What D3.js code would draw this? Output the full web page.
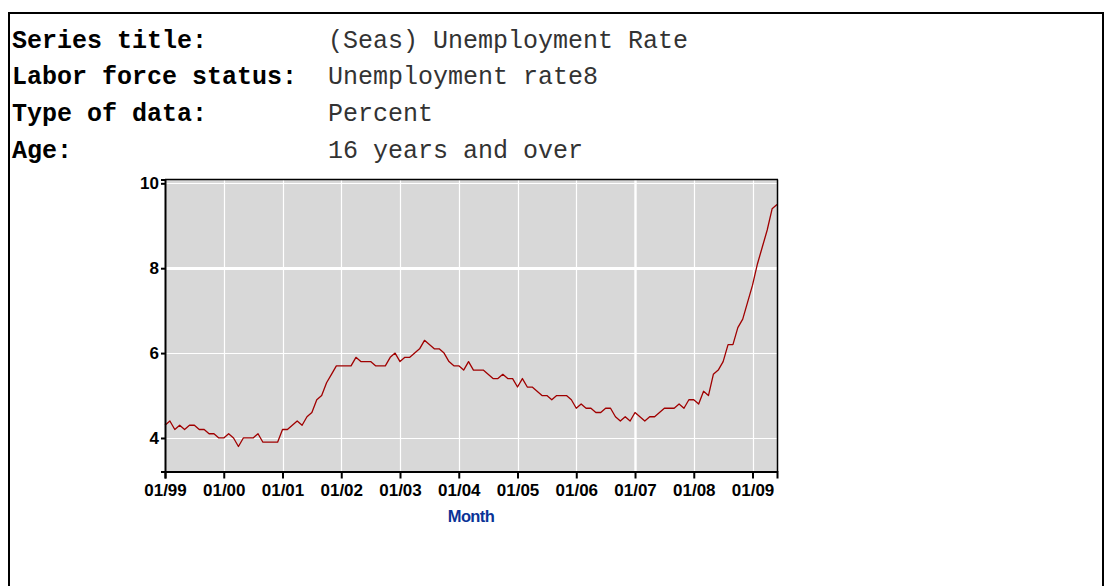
<!DOCTYPE html>
<html><head><meta charset="utf-8">
<script src="https://cdn.jsdelivr.net/npm/d3@7"></script>
<style>
html,body{margin:0;padding:0;background:#fff;}
svg{display:block;}
</style></head>
<body>
<svg id="c" width="1105" height="586"></svg>
<script>
// ---- data ----
const infoLabels = ["Series title:", "Labor force status:", "Type of data:", "Age:"];
const infoValues = ["(Seas) Unemployment Rate", "Unemployment rate8", "Percent", "16 years and over"];
const years = [1999,2000,2001,2002,2003,2004,2005,2006,2007,2008,2009];
const rate1999 = [4.3,4.4,4.2,4.3,4.2,4.3,4.3,4.2,4.2,4.1,4.1,4.0];
const rate2000 = [4.0,4.1,4.0,3.8,4.0,4.0,4.0,4.1,3.9,3.9,3.9,3.9];
const rate2001 = [4.2,4.2,4.3,4.4,4.3,4.5,4.6,4.9,5.0,5.3,5.5,5.7];
const rate2002 = [5.7,5.7,5.7,5.9,5.8,5.8,5.8,5.7,5.7,5.7,5.9,6.0];
const rate2003 = [5.8,5.9,5.9,6.0,6.1,6.3,6.2,6.1,6.1,6.0,5.8,5.7];
const rate2004 = [5.7,5.6,5.8,5.6,5.6,5.6,5.5,5.4,5.4,5.5,5.4,5.4];
const rate2005 = [5.2,5.4,5.2,5.2,5.1,5.0,5.0,4.9,5.0,5.0,5.0,4.9];
const rate2006 = [4.7,4.8,4.7,4.7,4.6,4.6,4.7,4.7,4.5,4.4,4.5,4.4];
const rate2007 = [4.6,4.5,4.4,4.5,4.5,4.6,4.7,4.7,4.7,4.8,4.7,4.9];
const rate2008 = [4.9,4.8,5.1,5.0,5.5,5.6,5.8,6.2,6.2,6.6,6.8,7.2];
const rate2009 = [7.6,8.1,8.5,8.9,9.4,9.5];
const yTicks = [4,6,8,10];
const xTickLabels = ["01/99","01/00","01/01","01/02","01/03","01/04","01/05","01/06","01/07","01/08","01/09"];
const xTitle = "Month";

const values = [].concat(rate1999,rate2000,rate2001,rate2002,rate2003,rate2004,rate2005,rate2006,rate2007,rate2008,rate2009);
const series = values.map((v,i)=>({i, v}));

const svg = d3.select("#c");

// outer frame
svg.append("rect").attr("x",9).attr("y",13).attr("width",1094).attr("height",600)
  .attr("fill","none").attr("stroke","#000").attr("stroke-width",2);

// info text
const rowY = [47.5, 84, 121, 157.5];
infoLabels.forEach((t,k)=>{
  svg.append("text").attr("x",12).attr("y",rowY[k]).text(t)
    .attr("font-family","'Liberation Mono','Courier New',monospace")
    .attr("font-size",25).attr("font-weight","bold").attr("fill","#000");
  svg.append("text").attr("x",328).attr("y",rowY[k]).text(infoValues[k])
    .attr("font-family","'Liberation Mono','Courier New',monospace")
    .attr("font-size",25).attr("fill","#333");
});

// chart
const L=165, R=777, T=179.5, B=471.5;
const x = d3.scaleLinear().domain([0, values.length-1]).range([L, R]);
const y = d3.scaleLinear().domain([3.21, 10.09]).range([B, T]);

svg.append("rect").attr("x",L).attr("y",T).attr("width",R-L).attr("height",B-T).attr("fill","#d8d8d8");

// grid
const g = svg.append("g");
yTicks.forEach(t=>{
  g.append("line").attr("x1",L).attr("x2",R).attr("y1",Math.round(y(t))+0.5).attr("y2",Math.round(y(t))+0.5)
   .attr("stroke","#fff").attr("stroke-width", t===8?3:1.2);
});
years.forEach((yr,k)=>{
  if(k===0) return;
  const px = Math.round(x(k*12))+0.5;
  g.append("line").attr("x1",px).attr("x2",px).attr("y1",T).attr("y2",B)
   .attr("stroke","#fff").attr("stroke-width", yr===2007?2.4:1.2);
});

// line
const line = d3.line().x(d=>x(d.i)).y(d=>y(d.v));
svg.append("path").datum(series).attr("d",line).attr("fill","none")
  .attr("stroke","#a00000").attr("stroke-width",1.3).attr("stroke-linejoin","round");

// frame top/right
svg.append("line").attr("x1",L).attr("x2",R+1).attr("y1",T).attr("y2",T).attr("stroke","#000").attr("stroke-width",1.5);
svg.append("line").attr("x1",R+0.5).attr("x2",R+0.5).attr("y1",T).attr("y2",B).attr("stroke","#000").attr("stroke-width",1.5);

// axes
const yAxis = d3.axisLeft(y).tickValues(yTicks).tickFormat(d3.format("d")).tickSize(4).tickPadding(2);
const ya = svg.append("g").attr("transform",`translate(${L},0)`).call(yAxis);
const xAxis = d3.axisBottom(x).tickValues(years.map((yr,k)=>k*12)).tickFormat((d,k)=>xTickLabels[k]).tickSize(7).tickPadding(5);
const xa = svg.append("g").attr("transform",`translate(0,${B})`).call(xAxis);
[ya,xa].forEach(a=>{
  a.select(".domain").attr("stroke","#000").attr("stroke-width",2);
  a.selectAll(".tick line").attr("stroke","#000").attr("stroke-width",2);
  a.selectAll("text").attr("font-family","'Liberation Sans',Arial,sans-serif").attr("font-weight","bold")
    .attr("font-size",17).attr("fill","#000");
});

svg.append("text").attr("x",(L+R)/2).attr("y",521.5).attr("text-anchor","middle").text(xTitle)
  .attr("font-family","'Liberation Sans',Arial,sans-serif").attr("font-weight","bold")
  .attr("font-size",16.5).attr("letter-spacing",-0.6).attr("fill","#0a3397");
</script>
</body></html>
